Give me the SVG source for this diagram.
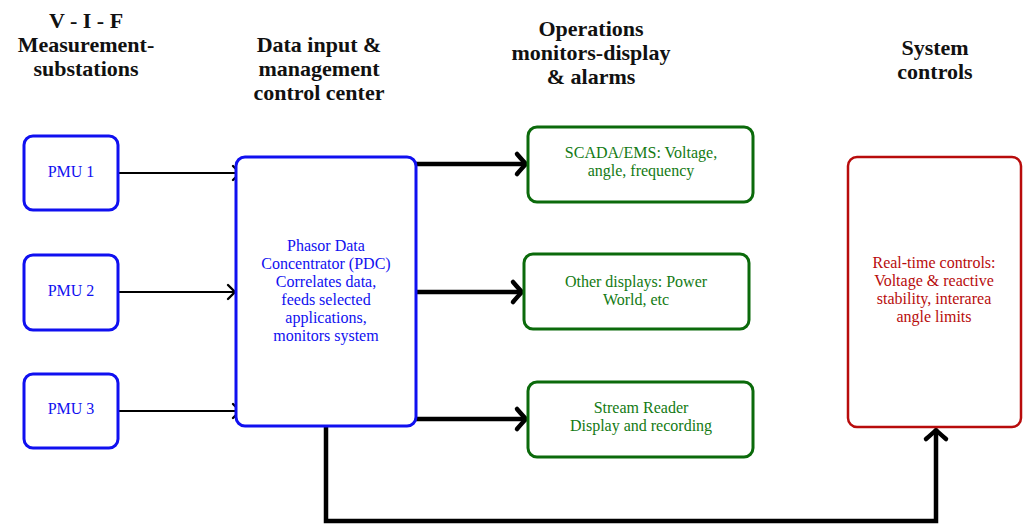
<svg xmlns="http://www.w3.org/2000/svg" width="1024" height="525" viewBox="0 0 1024 525">
  <style>
    .hdr { font-family: "Liberation Serif", "DejaVu Serif", serif; font-weight: bold; font-size: 22px; fill: #111; text-anchor: middle; }
    .lbl { font-family: "Liberation Serif", "DejaVu Serif", serif; font-size: 16px; text-anchor: middle; }
    .blue { stroke: #1010f0; stroke-width: 3; fill: #fff; }
    .green { stroke: #0b6a0b; stroke-width: 3; fill: #fff; }
    .red { stroke: #b80c0c; stroke-width: 2.5; fill: #fff; }
    .tb { fill: #1010f0; }
    .tg { fill: #137a13; }
    .tr { fill: #b80c0c; }
    .thin { stroke: #000; stroke-width: 2.2; fill: none; }
    .thick { stroke: #000; stroke-width: 4.5; fill: none; }
  </style>
  <defs>
    <marker id="headThin" viewBox="-12 -12 16 24" markerWidth="16" markerHeight="24" refX="0" refY="0" orient="auto" markerUnits="userSpaceOnUse">
      <path d="M-7,-7 Q-2,-2 0,0 Q-2,2 -7,7" fill="none" stroke="#000" stroke-width="2.4" stroke-linecap="round"/>
    </marker>
    <marker id="headThick" viewBox="-14 -14 18 28" markerWidth="18" markerHeight="28" refX="0" refY="0" orient="auto" markerUnits="userSpaceOnUse">
      <path d="M-9,-10 Q-3,-3 0,0 Q-3,3 -9,10" fill="none" stroke="#000" stroke-width="4.5" stroke-linecap="round"/>
    </marker>
  </defs>

  <!-- column headings -->
  <g id="headings">
    <text class="hdr" x="86" y="28">V - I - F</text>
    <text class="hdr" x="86" y="52">Measurement-</text>
    <text class="hdr" x="86" y="76">substations</text>
    <text class="hdr" x="319" y="52">Data input &amp;</text>
    <text class="hdr" x="319" y="76">management</text>
    <text class="hdr" x="319" y="100">control center</text>
    <text class="hdr" x="591" y="36">Operations</text>
    <text class="hdr" x="591" y="60">monitors-display</text>
    <text class="hdr" x="591" y="84">&amp; alarms</text>
    <text class="hdr" x="935" y="55">System</text>
    <text class="hdr" x="935" y="79">controls</text>
  </g>

  <!-- connectors -->
  <g id="connectors">
    <path class="thin" d="M118,173 H240" marker-end="url(#headThin)"/>
    <path class="thin" d="M118,292 H235" marker-end="url(#headThin)"/>
    <path class="thin" d="M118,411 H240" marker-end="url(#headThin)"/>
    <path class="thick" d="M413,164 H526" marker-end="url(#headThick)"/>
    <path class="thick" d="M417,292 H522" marker-end="url(#headThick)"/>
    <path class="thick" d="M413,419 H526" marker-end="url(#headThick)"/>
    <path class="thick" d="M326,426 V521 H936 V430" marker-end="url(#headThick)"/>
  </g>

  <!-- PMUs -->
  <g id="pmu1">
    <rect class="blue" x="24" y="136" width="94" height="74" rx="9"/>
    <text class="lbl tb" x="71" y="177">PMU 1</text>
  </g>
  <g id="pmu2">
    <rect class="blue" x="24" y="255" width="94" height="75" rx="9"/>
    <text class="lbl tb" x="71" y="296">PMU 2</text>
  </g>
  <g id="pmu3">
    <rect class="blue" x="24" y="374" width="94" height="74" rx="9"/>
    <text class="lbl tb" x="71" y="414">PMU 3</text>
  </g>

  <!-- Phasor Data Concentrator -->
  <g id="pdc">
    <rect class="blue" x="236" y="157" width="180" height="269" rx="9"/>
    <text class="lbl tb" x="326" y="251">Phasor Data</text>
    <text class="lbl tb" x="326" y="269">Concentrator (PDC)</text>
    <text class="lbl tb" x="326" y="287">Correlates data,</text>
    <text class="lbl tb" x="326" y="305">feeds selected</text>
    <text class="lbl tb" x="326" y="323">applications,</text>
    <text class="lbl tb" x="326" y="341">monitors system</text>
  </g>

  <!-- operations displays -->
  <g id="scada">
    <rect class="green" x="528" y="127" width="225" height="75" rx="9"/>
    <text class="lbl tg" x="641" y="158">SCADA/EMS: Voltage,</text>
    <text class="lbl tg" x="641" y="176">angle, frequency</text>
  </g>
  <g id="other-displays">
    <rect class="green" x="524" y="254" width="225" height="75" rx="9"/>
    <text class="lbl tg" x="636" y="287">Other displays: Power</text>
    <text class="lbl tg" x="636" y="305">World, etc</text>
  </g>
  <g id="stream-reader">
    <rect class="green" x="528" y="382" width="225" height="75" rx="9"/>
    <text class="lbl tg" x="641" y="413">Stream Reader</text>
    <text class="lbl tg" x="641" y="431">Display and recording</text>
  </g>

  <!-- system controls -->
  <g id="realtime-controls">
    <rect class="red" x="848" y="157" width="173" height="270" rx="9"/>
    <text class="lbl tr" x="934" y="268">Real-time controls:</text>
    <text class="lbl tr" x="934" y="286">Voltage &amp; reactive</text>
    <text class="lbl tr" x="934" y="304">stability, interarea</text>
    <text class="lbl tr" x="934" y="322">angle limits</text>
  </g>
</svg>
